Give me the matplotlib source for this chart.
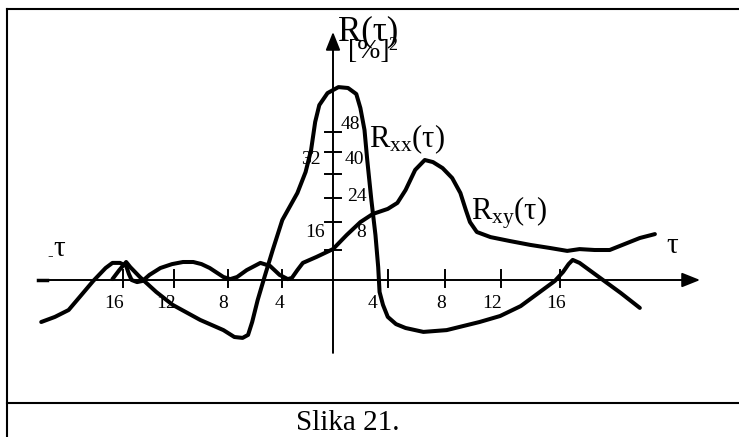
import numpy as np
import matplotlib
matplotlib.use("Agg")
import matplotlib.pyplot as plt
from matplotlib.lines import Line2D

plt.rcParams['font.family'] = ['Liberation Serif', 'DejaVu Serif']
plt.rcParams['mathtext.fontset'] = 'custom'
plt.rcParams['mathtext.rm'] = 'Liberation Serif'
plt.rcParams['mathtext.it'] = 'Liberation Serif:italic'

# R_xx(tau)
tau_xx = [-16.1, -15.6, -15.1, -14.8, -14.1, -12.9, -11.7, -9.7, -8.0, -7.2,
          -6.6, -6.2, -5.9, -5.5, -5.0, -4.4, -3.7, -2.6, -2.0, -1.6,
          -1.3, -1.0, -0.4, 0.4, 1.1, 1.7, 2.0, 2.3, 2.5, 2.8,
          3.1, 3.3, 3.4, 3.65, 4.0, 4.6, 5.3, 6.6, 8.3, 10.7,
          12.2, 13.7, 15.1, 16.2, 16.8, 17.2, 17.5, 18.0, 19.5, 21.0, 22.4]
r_xx = [0.3, 3.3, 6.0, 4.3, 1.0, -4.0, -8.3, -13.3, -16.7, -19.0,
        -19.3, -18.3, -14.0, -6.7, 1.0, 10.0, 20.0, 29.0, 36.0, 43.3,
        52.7, 58.3, 62.3, 64.3, 64.0, 62.0, 57.3, 50.0, 40.0, 26.7,
        15.0, 4.3, -4.0, -8.3, -12.3, -14.7, -16.0, -17.3, -16.7, -14.0,
        -12.0, -8.7, -4.0, -0.3, 2.7, 5.3, 6.7, 5.7, 0.7, -4.3, -9.3]

# R_xy(tau)
tau_xy = [-21.3, -20.3, -19.3, -18.5, -17.5, -16.6, -16.1, -15.55, -15.1, -14.9,
          -14.7, -14.3, -13.9, -13.4, -12.6, -11.75, -10.95, -10.2, -9.6, -9.0,
          -8.0, -7.5, -7.0, -6.3, -5.3, -4.6, -3.9, -3.3, -3.0, -2.6,
          -2.2, -1.2, 0.0, 1.0, 2.0, 2.9, 4.0, 4.7, 5.3, 6.0,
          6.7, 7.3, 8.0, 8.7, 9.3, 9.7, 10.0, 10.5, 11.5, 12.9,
          14.4, 15.8, 17.1, 18.0, 19.1, 20.2, 21.3, 22.4, 23.5]
r_xy = [-14.0, -12.3, -10.0, -5.7, -0.3, 4.0, 5.7, 5.7, 4.7, 2.0,
        0.0, -0.7, -0.3, 1.7, 4.0, 5.3, 6.0, 6.0, 5.3, 4.0,
        1.0, 0.3, 1.0, 3.3, 5.7, 4.7, 1.7, 0.3, 0.7, 3.3,
        5.7, 7.7, 10.3, 15.0, 19.3, 22.0, 23.7, 25.7, 30.0, 36.7,
        40.0, 39.3, 37.3, 34.0, 29.0, 23.3, 19.3, 16.0, 14.3, 13.0,
        11.7, 10.7, 9.7, 10.3, 10.0, 10.0, 12.0, 14.0, 15.3]

xtick_pos = [-15.3, -11.6, -7.7, -3.7, 4.0, 8.2, 12.3, 16.6]
xtick_lab = ['16', '12', '8', '4', '4', '8', '12', '16']
xlab_pos = [-16.0, -12.2, -8.0, -3.9, 2.85, 7.9, 11.6, 16.3]

ytick_pos = [10.0, 19.3, 27.3, 35.3, 42.7, 49.3]
ylab_right = ['48', '40', '24', '8']
ylab_right_pos = [(1.24, 51.7), (1.53, 40.0), (1.75, 27.7), (2.04, 15.7)]
ylab_left = ['32', '16']
ylab_left_pos = [(-1.6, 40.0), (-1.3, 16.0)]

fig = plt.figure(figsize=(7.39, 4.37), dpi=100)
ax = fig.add_axes([0, 0, 1, 1])
ax.set_xlim(-24.31, 29.64)
ax.set_ylim(-52.33, 93.33)
ax.axis('off')

# frame around figure + caption box
for xs, ys in [([7/739, 1], [1 - 9/437, 1 - 9/437]),
               ([7/739, 7/739], [0, 1 - 9/437]),
               ([7/739, 1], [1 - 403/437, 1 - 403/437])]:
    fig.add_artist(Line2D(xs, ys, transform=fig.transFigure, color='k', lw=1.5))

# axes with arrows
ax.annotate('', xy=(26.8, 0), xytext=(-20.9, 0),
            arrowprops=dict(arrowstyle='-|>,head_length=0.55,head_width=0.22',
                            lw=1.4, color='k', mutation_scale=20, shrinkA=0, shrinkB=0))
ax.annotate('', xy=(0, 82.7), xytext=(0, -24.3),
            arrowprops=dict(arrowstyle='-|>,head_length=0.55,head_width=0.22',
                            lw=1.4, color='k', mutation_scale=20, shrinkA=0, shrinkB=0))
ax.plot([-21.5, -20.9], [0, 0], color='k', lw=2.5)

for t in xtick_pos:
    ax.plot([t, t], [-2.3, 3.3], color='k', lw=1.4)
for y in ytick_pos:
    ax.plot([-0.58, 0.58], [y, y], color='k', lw=1.4)

for p, s in zip(xlab_pos, xtick_lab):
    ax.text(p, -7.7, s, fontsize=14, ha='center', va='center')
for (x, y), s in zip(ylab_right_pos, ylab_right):
    ax.text(x, y, s, fontsize=14, ha='center', va='center')
for (x, y), s in zip(ylab_left_pos, ylab_left):
    ax.text(x, y, s, fontsize=14, ha='center', va='center')

ax.plot(tau_xx, r_xx, color='k', lw=2.9, solid_joinstyle='round', solid_capstyle='round')
ax.plot(tau_xy, r_xy, color='k', lw=2.9, solid_joinstyle='round', solid_capstyle='round')

# labels
ax.text(0.36, 80.0, 'R(τ)', fontsize=25, ha='left', va='baseline')
ax.text(1.09, 74.1, '[%]', fontsize=20, ha='left', va='baseline')
ax.text(4.01, 76.7, '2', fontsize=13, ha='left', va='baseline')
ax.text(2.63, 44.3, r'R$_{\mathrm{xx}}$(τ)', fontsize=22, ha='left', va='baseline')
ax.text(10.07, 20.3, r'R$_{\mathrm{xy}}$(τ)', fontsize=22, ha='left', va='baseline')
ax.text(24.8, 11.3, 'τ', fontsize=21, ha='center', va='center')
ax.text(-20.0, 10.3, 'τ', fontsize=21, ha='center', va='center')
ax.text(-20.66, 8.0, '-', fontsize=12, ha='center', va='center')

fig.text(347.5/739, 1 - 430/437, 'Slika 21.', fontsize=21, ha='center', va='baseline')

fig.savefig('out.png', dpi=100)
